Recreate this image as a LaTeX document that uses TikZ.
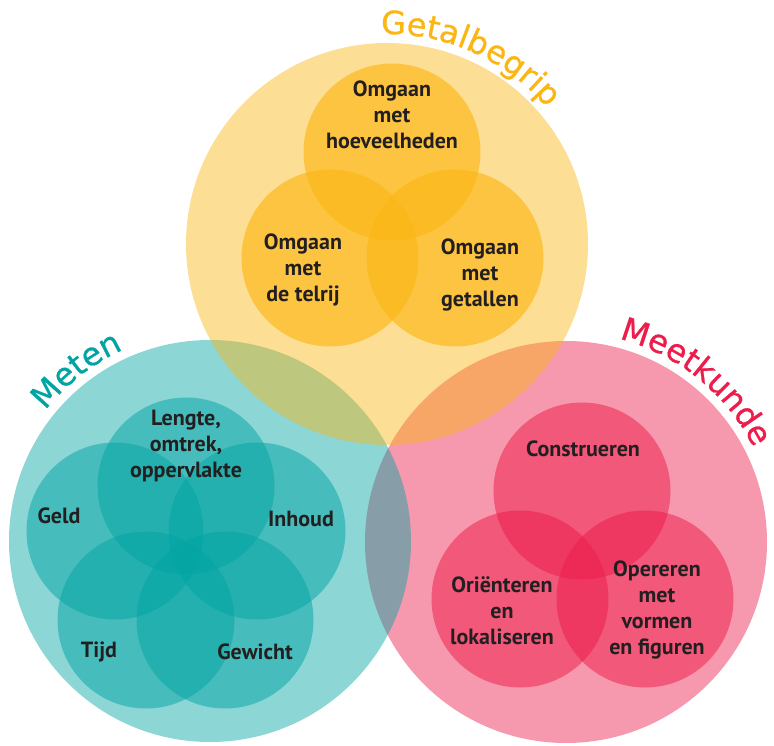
\documentclass[tikz,border=0pt]{standalone}
\usepackage{fontspec}
\setmainfont{PT Sans}
\newfontfamily\titlefont{DejaVu Sans}[FakeBold=0.8]
\usetikzlibrary{decorations.text}
\definecolor{getal}{RGB}{251,182,20}
\definecolor{meten}{RGB}{0,164,162}
\definecolor{meetk}{RGB}{236,28,75}
\definecolor{ink}{RGB}{35,31,32}
\begin{document}
\begin{tikzpicture}[x=1pt, y=1pt,
		topic/.style={align=center, text=ink, font=\fontsize{22}{26}\selectfont\bfseries},
		bigdisc/.style={fill=#1, fill opacity=0.45},
		arctitle/.style={decorate, decoration={text along path, text align=center, text color=#1}}]
				\useasboundingbox (0,0) rectangle (774,745);
				% big circles
				\fill[bigdisc=meetk] (566,203) circle[radius=201pt];
				\fill[bigdisc=meten] (210,204) circle[radius=201pt];
				\fill[bigdisc=getal] (387,501) circle[radius=201pt];
				% small circles
				\foreach \x/\y in {392/593, 330/487, 455/487}
					\fill[getal, fill opacity=0.65] (\x,\y) circle[radius=88.5pt];
				\foreach \x/\y in {186/259, 115/214, 257/214, 146/125, 225/125}
					\fill[meten, fill opacity=0.5] (\x,\y) circle[radius=88.5pt];
				\foreach \x/\y in {582/254, 520/146, 645/146}
					\fill[meetk, fill opacity=0.52] (\x,\y) circle[radius=88.5pt];
				
				% titles along the big circles
				\path[arctitle=getal, decoration={text={|\titlefont\fontsize{32}{32}\selectfont|Getalbegrip}}]
					(387,501) ++(116:210) arc[start angle=116, end angle=16, radius=210pt];
				\path[arctitle=meten, decoration={text={|\titlefont\fontsize{32}{32}\selectfont|Meten}}]
					(210,204) ++(178:210) arc[start angle=178, end angle=78, radius=210pt];
				\path[arctitle=meetk, decoration={text={|\titlefont\fontsize{32}{32}\selectfont|Meetkunde}}]
					(566,203) ++(101:210) arc[start angle=101, end angle=1, radius=210pt];
				
				% Getalbegrip
				\node[topic] (hoeveel) at (392,630) {Omgaan\\met\\hoeveelheden};
				\node[topic] (telrij) at (303,475) {Omgaan\\met\\de telrij};
				\node[topic] (getallen) at (480,470) {Omgaan\\met\\getallen};
				
				% Meten
				\node[topic] (lengte) at (186,299) {Lengte,\\omtrek,\\oppervlakte};
				\node[topic] (geld) at (59,229) {Geld};
				\node[topic] (inhoud) at (301,226) {Inhoud};
				\node[topic] (tijd) at (99,93) {Tijd};
				\node[topic] (gewicht) at (255,93) {Gewicht};
				
				% Meetkunde
				\node[topic] (construeren) at (583,296) {Construeren};
				\node[topic] (orienteren) at (502,134) {Oriënteren\\en\\lokaliseren};
				\node[topic] (opereren) at (657,135) {Opereren\\met\\vormen\\en figuren};
					
			\end{tikzpicture}
\end{document}
